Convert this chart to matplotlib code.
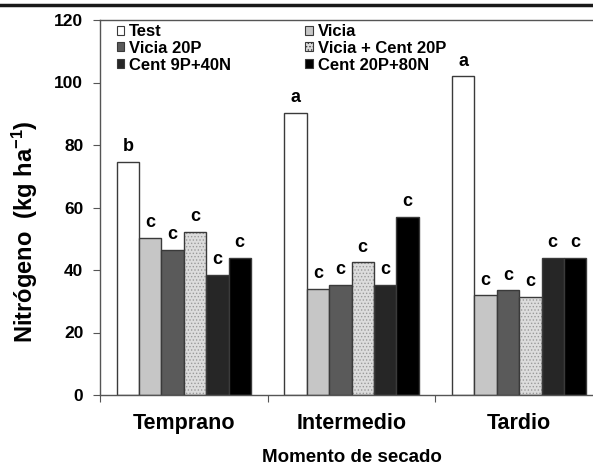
import numpy as np
import matplotlib
matplotlib.use('Agg')
import matplotlib.pyplot as plt
from matplotlib.lines import Line2D
from matplotlib.patches import Patch

plt.rcParams['font.family'] = ['Liberation Sans', 'DejaVu Sans']
plt.rcParams['font.weight'] = 'bold'
plt.rcParams['mathtext.fontset'] = 'custom'
plt.rcParams['mathtext.rm'] = 'Liberation Sans:bold'
plt.rcParams['mathtext.bf'] = 'Liberation Sans:bold'
plt.rcParams['mathtext.default'] = 'bf'

# data
momentos = ['Temprano', 'Intermedio', 'Tardio']
tratamientos = ['Test', 'Vicia', 'Vicia 20P', 'Vicia + Cent 20P', 'Cent 9P+40N', 'Cent 20P+80N']
test = [74.7, 90.4, 102.0]
vicia = [50.3, 33.9, 31.9]
vicia_20p = [46.4, 35.2, 33.5]
vicia_cent = [52.3, 42.5, 31.5]
cent_9p = [38.4, 35.2, 44.0]
cent_20p = [44.0, 57.0, 44.0]
letras = [['b', 'a', 'a'], ['c', 'c', 'c'], ['c', 'c', 'c'],
          ['c', 'c', 'c'], ['c', 'c', 'c'], ['c', 'c', 'c']]

series = [test, vicia, vicia_20p, vicia_cent, cent_9p, cent_20p]
colores = ['white', '#c6c6c6', '#5a5a5a', '#dcdcdc', '#262626', '#000000']

fig = plt.figure(figsize=(5.93, 4.66), dpi=100)
ax = fig.add_axes([100/593, 1-395/466, 503/593, 375/466])

w = 0.8/6
x = np.arange(3)
for k, (vals, col) in enumerate(zip(series, colores)):
    pos = x + 0.1 + (k+0.5)*w
    if k == 3:
        plt.rcParams['hatch.color'] = '#9a9a9a'
        plt.rcParams['hatch.linewidth'] = 0.6
        ax.bar(pos, vals, w, color=col, edgecolor='#9a9a9a', linewidth=0, hatch='.....', zorder=2)
        ax.bar(pos, vals, w, fill=False, edgecolor='#3a3a3a', linewidth=1, zorder=3)
    else:
        ax.bar(pos, vals, w, color=col, edgecolor='#3a3a3a', linewidth=1, zorder=2)
    for p, v, l in zip(pos, vals, letras[k]):
        ax.text(p, v + 3.4, l, ha='center', va='baseline', fontsize=13, fontweight='bold')

ax.set_xlim(0, 3)
ax.set_ylim(0, 120)
ax.set_yticks(range(0, 121, 20))
ax.set_xticks([0, 1, 2, 3])
ax.set_xticklabels([])
ax.set_xticks(x + 0.5, minor=True)
ax.set_xticklabels(momentos, minor=True, fontsize=15.5, fontweight='bold')
ax.tick_params(axis='x', which='minor', length=0, pad=13)
ax.tick_params(axis='x', which='major', length=5, direction='out', color='#555555')
ax.tick_params(axis='y', length=5, direction='out', color='#555555', labelsize=12.5, pad=7)
for lab in ax.get_yticklabels():
    lab.set_fontweight('bold')
for s in ax.spines.values():
    s.set_color('#555555')
    s.set_linewidth(1)

ax.set_ylabel('Nitrógeno  (kg ha$^{-1}$)', fontsize=17, fontweight='bold')
ax.yaxis.set_label_coords(-0.119, 0.435)
ax.set_xlabel('Momento de secado', fontsize=13.5, fontweight='bold', labelpad=11)

handles = [Patch(facecolor=c, edgecolor='#3a3a3a', linewidth=0.8,
                 hatch='.....' if i == 3 else None) for i, c in enumerate(colores)]
orden = [0, 2, 4, 1, 3, 5]
ax.legend([handles[i] for i in orden], [tratamientos[i] for i in orden], ncol=2,
          loc='upper left', bbox_to_anchor=(0.01, 1.02), frameon=False,
          prop={'weight': 'bold', 'size': 12}, handlelength=0.45, handleheight=0.45,
          handletextpad=0.3, columnspacing=4.45, labelspacing=0.1, borderaxespad=0.3)

fig.add_artist(Line2D([0, 1], [1-4.5/466, 1-4.5/466], color='#1a1a1a', lw=2.5,
                      transform=fig.transFigure))

plt.savefig('out.png', dpi=100)
